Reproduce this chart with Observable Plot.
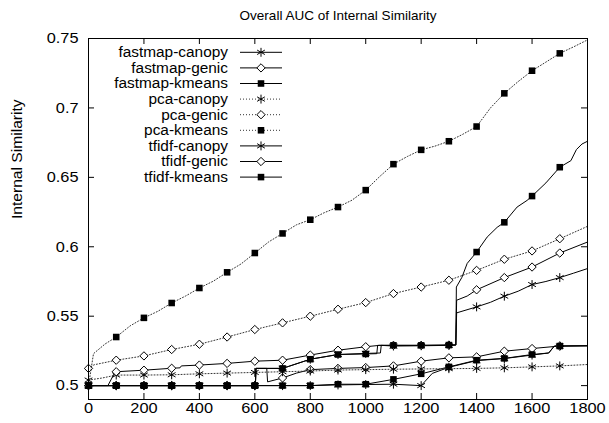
<!DOCTYPE html>
<html><head><meta charset="utf-8">
<script src="https://cdn.jsdelivr.net/npm/d3@7"></script>
<script src="https://cdn.jsdelivr.net/npm/@observablehq/plot@0.6"></script>
<style>
body{margin:0;background:#fff}
svg{font-family:"Liberation Sans",Arial,sans-serif}
</style>
</head><body><div id="chart"></div>
<script>
// ---- data ----
const chartTitle = "Overall AUC of Internal Similarity";
const yLabel = "Internal Similarity";
const xTicks = [0,200,400,600,800,1000,1200,1400,1600,1800];
const yTicks = [0.5,0.55,0.6,0.65,0.7,0.75];
const seriesNames = ["fastmap-canopy","fastmap-genic","fastmap-kmeans","pca-canopy","pca-genic","pca-kmeans","tfidf-canopy","tfidf-genic","tfidf-kmeans"];

const fastmapCanopyX = [0,100,200,300,400,500,600,700,800,900,1000,1100,1200,1240,1300,1400,1500,1600,1660,1680,1700,1800];
const fastmapCanopyY = [0.5,0.5,0.5,0.5,0.5,0.5,0.5,0.5,0.5,0.5005,0.5008,0.501,0.5,0.5088,0.5132,0.518,0.5195,0.522,0.5235,0.5283,0.5285,0.5287];

const fastmapGenicX = [0,100,200,300,400,500,600,602,604,643,646,700,750,800,900,1000,1100,1200,1300,1400,1500,1600,1700,1800];
const fastmapGenicY = [0.5,0.5,0.5,0.5,0.5,0.5,0.5,0.5,0.5124,0.5124,0.5027,0.5055,0.509,0.5115,0.5124,0.513,0.5142,0.5176,0.52,0.5207,0.5248,0.5267,0.5285,0.5287];

const fastmapKmeansX = [0,100,200,300,400,500,600,700,800,900,1000,1100,1200,1300,1400,1500,1600,1660,1680,1700,1800];
const fastmapKmeansY = [0.5,0.5,0.5,0.5,0.5,0.5,0.5,0.5,0.5,0.501,0.501,0.5045,0.5085,0.5135,0.5183,0.5196,0.5224,0.5235,0.5285,0.5285,0.5287];

const pcaCanopyX = [0,50,100,200,300,400,500,600,700,800,900,1000,1100,1200,1300,1400,1500,1600,1700,1800];
const pcaCanopyY = [0.504,0.5055,0.5076,0.5076,0.5078,0.5085,0.509,0.5095,0.51,0.5105,0.5112,0.5115,0.5118,0.512,0.5122,0.5124,0.5128,0.5135,0.5142,0.5152];

const pcaGenicX = [0,20,100,200,300,400,500,600,700,800,900,1000,1100,1200,1300,1400,1500,1600,1700,1800];
const pcaGenicY = [0.5124,0.515,0.5183,0.5214,0.526,0.5298,0.535,0.5404,0.5452,0.55,0.555,0.5598,0.5663,0.571,0.5759,0.583,0.591,0.597,0.6058,0.6147];

const pcaKmeansX = [0,18,60,100,150,200,250,300,350,400,450,500,550,600,650,700,750,800,850,900,950,1000,1050,1100,1150,1200,1250,1300,1350,1400,1450,1500,1550,1600,1650,1700,1750,1800];
const pcaKmeansY = [0.5,0.523,0.53,0.535,0.543,0.5488,0.5535,0.5595,0.5645,0.5703,0.5752,0.5816,0.5876,0.5955,0.6035,0.6096,0.6158,0.6195,0.6245,0.6286,0.6335,0.6408,0.6505,0.6595,0.665,0.6698,0.6725,0.676,0.681,0.6866,0.7,0.7105,0.719,0.7268,0.733,0.7393,0.744,0.749];

const tfidfCanopyX = [0,100,200,300,400,500,600,602,604,700,800,900,1000,1053,1056,1100,1200,1300,1325,1328,1400,1450,1500,1550,1600,1650,1700,1750,1800];
const tfidfCanopyY = [0.5,0.5,0.5,0.5,0.5,0.5,0.5,0.5,0.5124,0.5124,0.519,0.5224,0.5232,0.5235,0.529,0.5285,0.5287,0.529,0.5292,0.5524,0.5567,0.56,0.5644,0.568,0.5728,0.575,0.5778,0.581,0.5843];

const tfidfGenicX = [0,70,95,100,200,300,330,335,400,500,600,700,800,900,1000,1050,1100,1200,1300,1325,1328,1366,1400,1500,1600,1700,1800];
const tfidfGenicY = [0.5,0.5,0.5095,0.51,0.5111,0.5125,0.5128,0.5142,0.5148,0.516,0.5176,0.5183,0.522,0.5255,0.528,0.529,0.529,0.529,0.5292,0.5293,0.5615,0.5645,0.569,0.5778,0.5854,0.5955,0.6034];

const tfidfKmeansX = [0,100,200,300,400,500,600,602,604,700,800,900,1000,1040,1043,1100,1200,1300,1325,1327,1347,1366,1400,1438,1474,1500,1546,1582,1600,1650,1700,1740,1760,1780,1800];
const tfidfKmeansY = [0.5,0.5,0.5,0.5,0.5,0.5,0.5,0.5,0.5124,0.5124,0.519,0.5224,0.5228,0.523,0.529,0.529,0.529,0.5292,0.5293,0.571,0.578,0.588,0.5962,0.607,0.614,0.6176,0.6286,0.6334,0.6365,0.646,0.6573,0.662,0.67,0.674,0.676];

// ---- build ----
const xs = [fastmapCanopyX,fastmapGenicX,fastmapKmeansX,pcaCanopyX,pcaGenicX,pcaKmeansX,tfidfCanopyX,tfidfGenicX,tfidfKmeansX];
const ys = [fastmapCanopyY,fastmapGenicY,fastmapKmeansY,pcaCanopyY,pcaGenicY,pcaKmeansY,tfidfCanopyY,tfidfGenicY,tfidfKmeansY];
const kindOf = n => n.endsWith("canopy") ? "canopy" : n.endsWith("genic") ? "genic" : "kmeans";
const symStyle = {
  canopy: {symbol: "asterisk", r: 4.2, fill: "none", stroke: "#000", strokeWidth: 1},
  genic:  {symbol: "diamond2", r: 3.75, fill: "#fff", stroke: "#000", strokeWidth: 1},
  kmeans: {symbol: "square", r: 3.7, fill: "#000", stroke: "none", strokeWidth: 0}
};
const d3Sym = {canopy: d3.symbolAsterisk, genic: d3.symbolDiamond2, kmeans: d3.symbolSquare};
const dashOf = n => n.startsWith("pca") ? "1,2" : null;
const strokeOf = n => n.startsWith("pca") ? "#333" : "#000";

const marks = [];
seriesNames.forEach((name, i) => {
  const rows = xs[i].map((x, j) => ({x, y: ys[i][j]}));
  const pts = rows.filter(d => d.x % 100 === 0 && d.x <= 1700);
  marks.push(Plot.line(rows, {x: "x", y: "y", stroke: strokeOf(name), strokeWidth: 1, strokeDasharray: dashOf(name)}));
  marks.push(Plot.dot(pts, {x: "x", y: "y", ...symStyle[kindOf(name)]}));
});

const W = 609, H = 423, ML = 88, MR = 22, MT = 38, MB = 24, TICK = 6;
const innerW = W - ML - MR, innerH = H - MT - MB;

const plot = Plot.plot({
  width: W, height: H,
  marginLeft: ML, marginRight: MR, marginTop: MT, marginBottom: MB,
  x: {domain: [0, 1800]},
  y: {domain: [0.49, 0.75]},
  style: {background: "#fff", color: "#000"},
  marks: [
    Plot.axisX({ticks: xTicks, tickSize: 0, tickPadding: 3, fontSize: 15, label: null, tickFormat: d => String(d)}),
    Plot.axisY({ticks: yTicks, tickSize: 0, tickPadding: 10, fontSize: 15, label: null, tickFormat: d => String(d)}),
    Plot.tickX(xTicks, {x: d => d, stroke: "#000", insetTop: innerH - TICK}),
    Plot.tickX(xTicks, {x: d => d, stroke: "#000", insetBottom: innerH - TICK}),
    Plot.tickY(yTicks, {y: d => d, stroke: "#000", insetRight: innerW - TICK}),
    Plot.tickY(yTicks, {y: d => d, stroke: "#000", insetLeft: innerW - TICK}),
    ...marks,
    Plot.frame({stroke: "#000", strokeWidth: 1}),
    Plot.text([chartTitle], {frameAnchor: "top", dy: -28, fontSize: 13, fill: "#000"}),
    Plot.text([yLabel], {frameAnchor: "left", rotate: -90, dx: -71, fontSize: 15, fill: "#000"})
  ]
});
document.getElementById("chart").appendChild(plot);

// ---- legend (inside plot, top-left) ----
const svg = d3.select(plot);
const lg = svg.append("g").attr("font-size", 14).attr("fill", "#000");
seriesNames.forEach((name, i) => {
  const y = 52.3 + i * 15.6;
  const k = kindOf(name);
  lg.append("text").attr("class", "lgtext").attr("x", 228).attr("y", y).attr("dy", "0.35em").attr("text-anchor", "end").text(name);
  lg.append("line").attr("x1", 240).attr("x2", 282).attr("y1", y).attr("y2", y)
    .attr("stroke", strokeOf(name)).attr("stroke-width", 1).attr("stroke-dasharray", dashOf(name));
  const st = symStyle[k];
  lg.append("path").attr("transform", `translate(261,${y})`)
    .attr("d", d3.symbol(d3Sym[k], Math.PI * st.r * st.r)())
    .attr("fill", st.fill).attr("stroke", st.stroke).attr("stroke-width", st.strokeWidth);
});

// widen glyphs slightly to match the reference's wide sans rendering
function stretch(nodes, f) {
  nodes.forEach(t => {
    const L = t.getComputedTextLength();
    if (L > 0) { t.setAttribute("textLength", (L * f).toFixed(1)); t.setAttribute("lengthAdjust", "spacingAndGlyphs"); }
  });
}
stretch(plot.querySelectorAll('g[aria-label="x-axis tick label"] text, g[aria-label="y-axis tick label"] text'), 1.09);
stretch(plot.querySelectorAll("text.lgtext"), 1.1);
stretch(plot.querySelectorAll('g[aria-label="text"] text'), 1.04);
</script>
</body></html>
